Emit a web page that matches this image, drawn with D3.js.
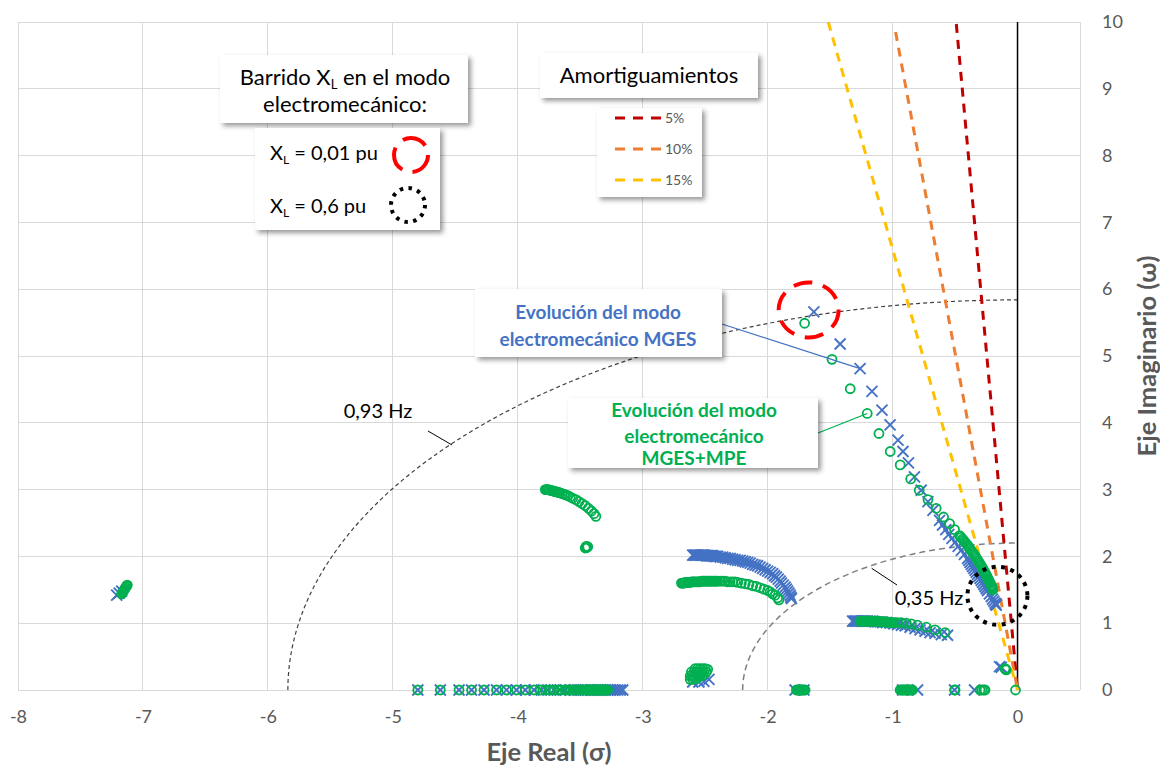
<!DOCTYPE html>
<html lang="es">
<head>
<meta charset="UTF-8">
<script src="https://cdn.jsdelivr.net/npm/d3@7"></script>
<style>
body { margin: 0; background: #fff; font-family: Lato, "Open Sans", sans-serif; }
.grid line { stroke: #d9d9d9; stroke-width: 1; shape-rendering: crispEdges; }
.tick text { fill: #595959; font-size: 18px; font-family: Lato, sans-serif; }
.axis-title { fill: #595959; font-size: 25.5px; font-weight: bold; }
.box { fill: #fff; filter: url(#shadow); }
</style>
</head>
<body>
<div id="chart"></div>
<script>
// ---- data (sigma, omega) ----
const xTicks = [-8, -7, -6, -5, -4, -3, -2, -1, 0];
const yTicks = [0, 1, 2, 3, 4, 5, 6, 7, 8, 9, 10];

// MGES (blue X)
const blueMain = [[-1.63,5.66],[-1.42,5.18],[-1.26,4.81],[-1.165,4.47],[-1.085,4.19],[-1.02,3.97],[-0.957,3.74],
  [-0.917,3.57],[-0.873,3.40],[-0.825,3.19],[-0.771,2.99],[-0.717,2.82],[-0.677,2.69],[-0.624,2.54],[-0.60,2.47],
  [-0.575,2.40],[-0.55,2.33],[-0.525,2.27],[-0.50,2.21],[-0.475,2.15],[-0.45,2.09],[-0.425,2.03],[-0.40,1.97],
  [-0.38,1.91],[-0.36,1.85],[-0.34,1.79],[-0.32,1.73],[-0.30,1.67],[-0.28,1.61],[-0.26,1.55],[-0.24,1.49],
  [-0.225,1.44],[-0.21,1.40],[-0.20,1.36],[-0.19,1.33],[-0.18,1.30],[-0.175,1.28],[-0.17,1.27],
  [-0.39,1.94],[-0.37,1.88],[-0.35,1.82],[-0.33,1.76],[-0.31,1.70],[-0.29,1.64],[-0.27,1.58],[-0.25,1.52]];
const blueBand2 = [[-2.60,2.02],[-2.59,2.02],[-2.58,2.02],[-2.57,2.02],[-2.56,2.02],[-2.55,2.02],[-2.54,2.02],
  [-2.53,2.02],[-2.52,2.02],[-2.51,2.02],[-2.50,2.02],[-2.49,2.01],[-2.48,2.01],[-2.47,2.01],[-2.46,2.01],
  [-2.45,2.01],[-2.44,2.01],[-2.43,2.00],[-2.42,2.00],[-2.41,2.00],[-2.40,2.00],[-2.38,1.99],[-2.36,1.99],
  [-2.34,1.98],[-2.32,1.97],[-2.30,1.97],[-2.28,1.96],[-2.26,1.95],[-2.24,1.94],[-2.22,1.94],[-2.20,1.93],
  [-2.18,1.92],[-2.16,1.91],[-2.14,1.90],[-2.12,1.88],[-2.10,1.87],[-2.08,1.86],[-2.06,1.84],[-2.04,1.82],
  [-2.02,1.80],[-2.00,1.78],[-1.98,1.76],[-1.96,1.74],[-1.945,1.71],[-1.93,1.69],[-1.915,1.66],[-1.90,1.63],
  [-1.89,1.60],[-1.875,1.57],[-1.86,1.54],[-1.85,1.51],[-1.84,1.48],[-1.83,1.45],[-1.82,1.42],[-1.815,1.39],
  [-1.81,1.37]];
const blueBand1 = [[-1.32,1.03],[-1.31,1.03],[-1.30,1.03],[-1.29,1.03],[-1.28,1.03],[-1.27,1.03],[-1.26,1.03],
  [-1.25,1.03],[-1.24,1.03],[-1.23,1.03],[-1.22,1.03],[-1.21,1.03],[-1.20,1.03],[-1.18,1.03],[-1.16,1.03],
  [-1.14,1.02],[-1.12,1.02],[-1.10,1.02],[-1.08,1.01],[-1.05,1.01],[-1.02,1.00],[-0.99,0.99],[-0.96,0.98],
  [-0.93,0.97],[-0.90,0.96],[-0.86,0.94],[-0.82,0.92],[-0.78,0.90],[-0.74,0.88],[-0.70,0.86],[-0.66,0.85],
  [-0.61,0.83],[-0.56,0.82]];
const blueSmall = [[-7.21,1.42],[-7.19,1.45],[-7.17,1.48],[-2.60,0.12],[-2.55,0.12],[-2.51,0.13],[-2.47,0.16],
  [-0.144,0.35],[-0.13,0.34]];
const blueRealSigma = [-4.80,-4.62,-4.47,-4.37,-4.27,-4.17,-4.09,-4.01,-3.94,-3.87,-3.81,-3.76,-3.71,-3.66,
  -3.62,-3.58,-3.55,-3.52,-3.49,-3.46,-3.44,-3.42,-3.40,-3.38,-3.36,-3.34,-3.32,-3.30,-3.28,-3.26,-3.24,
  -3.22,-3.20,-3.18,-3.16,-1.78,-1.71,-0.92,-0.80,-0.504,-0.344];

// MGES+MPE (green O)
const greenMain = [[-1.704,5.49],[-1.485,4.95],[-1.339,4.51],[-1.203,4.14],[-1.109,3.84],[-1.019,3.57],
  [-0.939,3.37],[-0.855,3.16],[-0.787,2.99],[-0.717,2.85],[-0.651,2.72],[-0.592,2.59],[-0.544,2.49],
  [-0.504,2.40],[-0.464,2.31],[-0.452,2.285],[-0.44,2.26],[-0.432,2.24],[-0.424,2.22],[-0.412,2.195],
  [-0.40,2.17],[-0.392,2.145],[-0.384,2.12],[-0.374,2.095],[-0.364,2.07],[-0.354,2.045],[-0.344,2.02],
  [-0.334,1.99],[-0.324,1.96],[-0.314,1.93],[-0.304,1.90],[-0.294,1.87],[-0.284,1.84],[-0.274,1.805],
  [-0.264,1.77],[-0.257,1.745],[-0.25,1.72],[-0.243,1.695],[-0.237,1.67],[-0.230,1.645],[-0.224,1.62],
  [-0.217,1.595],[-0.211,1.57],[-0.207,1.555],[-0.204,1.54],[-0.20,1.52],[-0.197,1.50]];
const greenArc3 = [[-3.78,3.00],[-3.77,3.00],[-3.76,3.00],[-3.75,2.995],[-3.74,2.99],[-3.73,2.985],[-3.72,2.98],
  [-3.71,2.975],[-3.70,2.97],[-3.69,2.965],[-3.68,2.96],[-3.67,2.955],[-3.66,2.95],[-3.645,2.94],[-3.63,2.93],
  [-3.615,2.92],[-3.60,2.91],[-3.58,2.89],[-3.56,2.87],[-3.535,2.85],[-3.51,2.82],[-3.485,2.79],[-3.46,2.76],
  [-3.435,2.72],[-3.41,2.68],[-3.39,2.64],[-3.375,2.60],
  [-3.45,2.13],[-3.455,2.14],[-3.445,2.14],[-3.46,2.125],[-3.44,2.145],[-3.452,2.15]];
const greenBand2 = [[-2.69,1.60],[-2.68,1.60],[-2.67,1.60],[-2.66,1.61],[-2.65,1.61],[-2.64,1.61],[-2.63,1.61],
  [-2.62,1.61],[-2.61,1.62],[-2.60,1.62],[-2.59,1.62],[-2.58,1.62],[-2.57,1.62],[-2.56,1.62],[-2.55,1.62],
  [-2.54,1.62],[-2.53,1.63],[-2.52,1.63],[-2.51,1.63],[-2.50,1.63],[-2.49,1.63],[-2.48,1.63],[-2.47,1.63],
  [-2.46,1.63],[-2.45,1.63],[-2.44,1.63],[-2.43,1.63],[-2.42,1.63],[-2.41,1.63],[-2.40,1.63],[-2.38,1.63],
  [-2.36,1.63],[-2.34,1.63],[-2.32,1.62],[-2.30,1.62],[-2.28,1.62],[-2.26,1.62],[-2.24,1.61],[-2.21,1.60],
  [-2.18,1.59],[-2.15,1.58],[-2.12,1.56],[-2.09,1.55],[-2.06,1.53],[-2.03,1.51],[-2.00,1.49],[-1.98,1.47],
  [-1.96,1.44],[-1.94,1.42],[-1.92,1.38],[-1.91,1.35]];
const greenBand1 = [[-1.26,1.03],[-1.25,1.03],[-1.24,1.03],[-1.23,1.03],[-1.22,1.03],[-1.21,1.03],[-1.20,1.03],
  [-1.19,1.03],[-1.18,1.03],[-1.17,1.03],[-1.16,1.03],[-1.15,1.03],[-1.14,1.03],[-1.13,1.03],[-1.12,1.03],
  [-1.11,1.03],[-1.10,1.02],[-1.09,1.02],[-1.08,1.02],[-1.07,1.02],[-1.06,1.02],[-1.05,1.02],[-1.04,1.02],
  [-1.03,1.01],[-1.02,1.01],[-1.01,1.01],[-1.00,1.01],[-0.98,1.01],[-0.96,1.01],[-0.93,1.01],[-0.89,1.00],
  [-0.85,0.99],[-0.80,0.97],[-0.73,0.94],[-0.66,0.90],[-0.58,0.86]];
const greenSmall = [[-7.17,1.44],[-7.165,1.455],[-7.16,1.47],[-7.155,1.485],[-7.15,1.50],[-7.145,1.515],
  [-7.14,1.53],[-7.135,1.545],[-7.13,1.56],[-7.125,1.57],
  [-2.58,0.32],[-2.56,0.32],[-2.54,0.32],[-2.52,0.32],[-2.50,0.32],[-2.48,0.31],
  [-2.61,0.27],[-2.59,0.27],[-2.57,0.27],[-2.55,0.27],[-2.53,0.27],[-2.51,0.27],[-2.49,0.27],
  [-2.62,0.21],[-2.60,0.21],[-2.58,0.21],[-2.56,0.21],[-2.54,0.21],[-2.52,0.22],
  [-2.62,0.16],[-2.60,0.16],[-2.58,0.17],[-2.56,0.18],
  [-0.096,0.31],[-0.09,0.30],[-0.10,0.32]];
const greenRealSigma = [-4.80,-4.62,-4.47,-4.37,-4.27,-4.17,-4.09,-4.01,-3.94,-3.87,-3.82,-3.78,-3.74,-3.71,
  -3.68,-3.65,-3.62,-3.60,-3.58,-3.56,-3.54,-3.52,-3.50,-3.48,-3.46,-3.45,-3.44,-3.43,-3.42,-3.41,-3.40,
  -3.39,-3.38,-3.37,-3.36,-3.35,-3.34,-3.33,-3.32,-3.31,-3.30,-3.29,-3.28,
  -1.77,-1.76,-1.75,-1.74,-1.73,-1.72,-1.71,-1.70,
  -0.94,-0.93,-0.92,-0.91,-0.90,-0.89,-0.88,-0.87,-0.86,-0.85,-0.84,
  -0.504,-0.50,-0.30,-0.285,-0.27,-0.26,-0.016];

// damping lines (end points) and constant-frequency arcs (radius in rad/s)
const dampNames = ["5%", "10%", "15%"];
const dampColors = ["#c00000", "#ed7d31", "#ffc000"];
const dampEnds = [[[-0.49, 9.97], [0, 0]], [[-0.976, 9.85], [0, 0]], [[-1.515, 10], [0, 0]]];
const freqLabels = ["0,93 Hz", "0,35 Hz"];
const freqRadius = [5.84, 2.2];
const zeroLine = [[0, 0], [0, 10]];

// ---- chart ----
const W = 1160, H = 767;
const x = d3.scaleLinear().domain([-8, 0.5]).range([18, 1080]);
const y = d3.scaleLinear().domain([0, 10]).range([690, 22]);

const svg = d3.select("#chart").append("svg").attr("width", W).attr("height", H);
const defs = svg.append("defs");
defs.append("filter").attr("id", "shadow").attr("x", "-10%").attr("y", "-20%").attr("width", "130%").attr("height", "150%")
  .append("feDropShadow").attr("dx", 3).attr("dy", 3).attr("stdDeviation", 2.5)
  .attr("flood-color", "#000").attr("flood-opacity", 0.4);

// grid
const grid = svg.append("g").attr("class", "grid");
grid.selectAll(".gx").data(xTicks.concat([0.5])).enter().append("line")
  .attr("x1", d => x(d)).attr("x2", d => x(d)).attr("y1", y(0)).attr("y2", y(10));
grid.selectAll(".gy").data(yTicks).enter().append("line")
  .attr("x1", x(-8)).attr("x2", x(0.5)).attr("y1", d => y(d)).attr("y2", d => y(d));

// axes (labels only)
const xAxis = svg.append("g").attr("transform", `translate(0,${y(0)})`)
  .call(d3.axisBottom(x).tickValues(xTicks).tickSize(0).tickPadding(20).tickFormat(d => d));
xAxis.select(".domain").remove();
const yAxis = svg.append("g").attr("transform", `translate(${x(0.5)},0)`)
  .call(d3.axisRight(y).tickValues(yTicks).tickSize(0).tickPadding(22));
yAxis.select(".domain").remove();
yAxis.selectAll("text").attr("text-anchor", "start");

svg.append("text").attr("class", "axis-title").attr("x", (x(-8) + x(0.5)) / 2).attr("y", 761)
  .attr("text-anchor", "middle").text("Eje Real (σ)");
svg.append("text").attr("class", "axis-title")
  .attr("transform", `translate(1156,${(y(0) + y(10)) / 2}) rotate(-90)`)
  .attr("text-anchor", "middle").text("Eje Imaginario (ω)");

// constant frequency arcs
const arcStyle = [{ c: "#404040", w: 1.2, d: "4,3" }, { c: "#808080", w: 1.5, d: "6,4" }];
freqRadius.forEach((r, i) => {
  const rx = x(0) - x(-r), ry = y(0) - y(r);
  svg.append("path")
    .attr("d", `M${x(-r)},${y(0)} A${rx},${ry} 0 0 1 ${x(0)},${y(r)}`)
    .attr("fill", "none").attr("stroke", arcStyle[i].c)
    .attr("stroke-width", arcStyle[i].w).attr("stroke-dasharray", arcStyle[i].d);
});

// zero line
const line = d3.line().x(d => x(d[0])).y(d => y(d[1]));
svg.append("path").attr("d", line(zeroLine)).attr("stroke", "#000").attr("stroke-width", 1.5).attr("fill", "none");

// damping lines
dampEnds.forEach((pts, i) => {
  svg.append("path").attr("d", line(pts)).attr("fill", "none")
    .attr("stroke", dampColors[i]).attr("stroke-width", 3).attr("stroke-dasharray", "9,7");
});

// markers
const blueAll = blueMain.concat(blueBand2, blueBand1, blueSmall, blueRealSigma.map(s => [s, 0]));
const greenAll = greenMain.concat(greenArc3, greenBand2, greenBand1, greenSmall, greenRealSigma.map(s => [s, 0]));
const xs = 5.5;
svg.append("g").selectAll("path").data(blueAll).enter().append("path")
  .attr("d", d => {
    const cx = x(d[0]), cy = y(d[1]);
    return `M${cx - xs},${cy - xs}L${cx + xs},${cy + xs}M${cx - xs},${cy + xs}L${cx + xs},${cy - xs}`;
  })
  .attr("stroke", "#4472c4").attr("stroke-width", 1.9).attr("fill", "none");
svg.append("g").selectAll("circle").data(greenAll).enter().append("circle")
  .attr("cx", d => x(d[0])).attr("cy", d => y(d[1])).attr("r", 4.5)
  .attr("fill", "none").attr("stroke", "#00b050").attr("stroke-width", 1.8);

// highlight circles
svg.append("ellipse").attr("cx", x(-1.672)).attr("cy", y(5.69)).attr("rx", 30).attr("ry", 27.5)
  .attr("fill", "none").attr("stroke", "#ff0000").attr("stroke-width", 4).attr("stroke-dasharray", "19,11");
svg.append("ellipse").attr("cx", x(-0.161)).attr("cy", y(1.41)).attr("rx", 30).attr("ry", 29)
  .attr("fill", "none").attr("stroke", "#000").attr("stroke-width", 4).attr("stroke-dasharray", "4,5.5");

// frequency labels + leaders
svg.append("line").attr("x1", 428).attr("y1", 431).attr("x2", 452).attr("y2", 445).attr("stroke", "#000");
svg.append("text").attr("x", 378).attr("y", 418).attr("text-anchor", "middle").attr("font-size", 20).text(freqLabels[0]);
svg.append("line").attr("x1", 871.7).attr("y1", 568.3).attr("x2", 897).attr("y2", 585).attr("stroke", "#000");
svg.append("text").attr("x", 929).attr("y", 605).attr("text-anchor", "middle").attr("font-size", 20).text(freqLabels[1]);

// callouts
svg.append("line").attr("x1", 722).attr("y1", 324).attr("x2", x(-1.26)).attr("y2", y(4.81))
  .attr("stroke", "#4472c4").attr("stroke-width", 1.2);
svg.append("rect").attr("class", "box").attr("x", 475).attr("y", 289).attr("width", 247).attr("height", 68);
const bt = svg.append("text").attr("text-anchor", "middle").attr("fill", "#4472c4").attr("font-weight", "bold").attr("font-size", 19);
bt.append("tspan").attr("x", 598).attr("y", 319).text("Evolución del modo");
bt.append("tspan").attr("x", 598).attr("y", 346).text("electromecánico MGES");

svg.append("line").attr("x1", 818).attr("y1", 433).attr("x2", x(-1.203)).attr("y2", y(4.14))
  .attr("stroke", "#00b050").attr("stroke-width", 1.2);
svg.append("rect").attr("class", "box").attr("x", 568).attr("y", 398).attr("width", 250).attr("height", 70);
const gt = svg.append("text").attr("text-anchor", "middle").attr("fill", "#00b050").attr("font-weight", "bold").attr("font-size", 19);
gt.append("tspan").attr("x", 694).attr("y", 417).text("Evolución del modo");
gt.append("tspan").attr("x", 694).attr("y", 443).text("electromecánico");
gt.append("tspan").attr("x", 694).attr("y", 465).text("MGES+MPE");

// legend: barrido XL
svg.append("rect").attr("class", "box").attr("x", 220).attr("y", 55).attr("width", 248).attr("height", 68);
const lt = svg.append("text").attr("text-anchor", "middle").attr("font-size", 22).attr("fill", "#000");
const l1 = lt.append("tspan").attr("x", 345).attr("y", 85);
l1.append("tspan").text("Barrido X");
l1.append("tspan").attr("font-size", 13).attr("dy", 4).text("L");
l1.append("tspan").attr("dy", -4).text(" en el modo");
lt.append("tspan").attr("x", 345).attr("y", 112).text("electromecánico:");

svg.append("rect").attr("class", "box").attr("x", 255).attr("y", 128).attr("width", 185).attr("height", 102);
[["0,01 pu", 160], ["0,6 pu", 213]].forEach(([v, yy]) => {
  const t = svg.append("text").attr("x", 270).attr("y", yy).attr("font-size", 20).attr("fill", "#000");
  t.append("tspan").text("X");
  t.append("tspan").attr("font-size", 12).attr("dy", 4).text("L");
  t.append("tspan").attr("dy", -4).text(" = " + v);
});
svg.append("circle").attr("cx", 411).attr("cy", 155).attr("r", 17).attr("fill", "none")
  .attr("stroke", "#ff0000").attr("stroke-width", 4).attr("stroke-dasharray", "25,10.6");
svg.append("circle").attr("cx", 408).attr("cy", 205).attr("r", 17).attr("fill", "none")
  .attr("stroke", "#000").attr("stroke-width", 4).attr("stroke-dasharray", "3.5,5.4");

// legend: amortiguamientos
svg.append("rect").attr("class", "box").attr("x", 540).attr("y", 53).attr("width", 218).attr("height", 45);
svg.append("text").attr("x", 649).attr("y", 83).attr("text-anchor", "middle").attr("font-size", 22).text("Amortiguamientos");
svg.append("rect").attr("class", "box").attr("x", 597).attr("y", 108).attr("width", 105).attr("height", 89);
dampNames.forEach((n, i) => {
  const yy = 118 + i * 31;
  svg.append("line").attr("x1", 615).attr("x2", 662).attr("y1", yy).attr("y2", yy)
    .attr("stroke", dampColors[i]).attr("stroke-width", 3).attr("stroke-dasharray", "10,8");
  svg.append("text").attr("x", 665).attr("y", yy + 5).attr("font-size", 14).attr("fill", "#595959").text(n);
});
</script>
</body>
</html>
